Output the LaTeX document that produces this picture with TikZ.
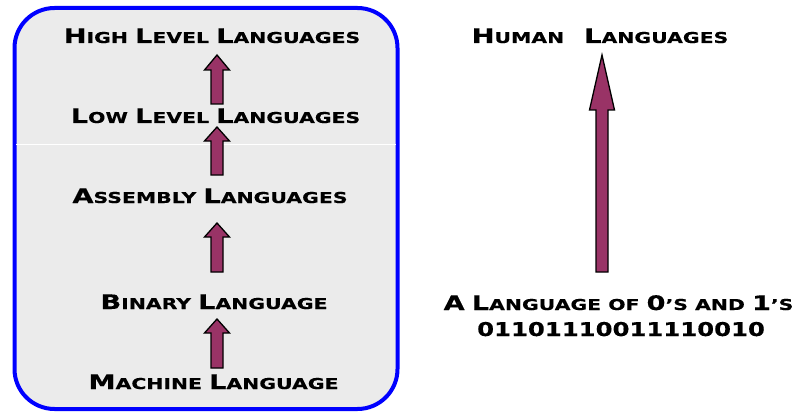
\documentclass[tikz,border=0pt]{standalone}
\usepackage{fontspec}
\newfontfamily\cg{DejaVu Sans Bold}[FakeStretch=1.36, FakeBold=0.4]
\newfontfamily\cgd{DejaVu Sans Bold}[FakeStretch=1.28, FakeBold=0.4]
\newcommand\Bg[1]{{\fontsize{20}{20}\selectfont#1}}
\newcommand\Sm[1]{{\fontsize{15}{15}\selectfont#1}}
\definecolor{plum}{HTML}{993366}
\definecolor{panel}{HTML}{EBEBEB}
\tikzset{
  lbl/.style={anchor=base, inner sep=0pt, font=\cg\fontsize{15}{15}\selectfont, text=black},
  blockarrow/.style={fill=plum, draw=black, line width=1.3pt, line join=miter},
  panelbox/.style={draw=blue, fill=panel, line width=4pt, rounded corners=40pt}
}
% tip x, tip y, head-base y, bottom y, head half width, shaft half width
\newcommand\uparr[6]{%
  \draw[blockarrow] (#1,#2) -- ({#1+#5},#3) -- ({#1+#6},#3) -- ({#1+#6},#4)
    -- ({#1-#6},#4) -- ({#1-#6},#3) -- ({#1-#5},#3) -- cycle;}
\begin{document}
\begin{tikzpicture}[x=1pt,y=-1pt]
\useasboundingbox (0,0) rectangle (796,412);
\draw[panelbox] (14.5,8) rectangle (397.5,409);
\draw[white, line width=0.8pt] (16,144) -- (395.5,144);
% left column labels
\node[lbl] (high) at (212,43) {\Bg{H}\Sm{IGH} \Bg{L}\Sm{EVEL} \Bg{L}\Sm{ANGUAGES}};
\node[lbl] (low) at (215.5,123) {\Bg{L}\Sm{OW} \Bg{L}\Sm{EVEL} \Bg{L}\Sm{ANGUAGES}};
\node[lbl] (asm) at (210,203) {\Bg{A}\Sm{SSEMBLY} \Bg{L}\Sm{ANGUAGES}};
\node[lbl] (bin) at (214,309) {\Bg{B}\Sm{INARY} \Bg{L}\Sm{ANGUAGE}};
\node[lbl] (mach) at (213.5,389) {\Bg{M}\Sm{ACHINE} \Bg{L}\Sm{ANGUAGE}};
% arrows in the panel
\uparr{217}{55}{70}{104}{12.5}{6}
\uparr{217}{127}{141}{175}{12.5}{6}
\uparr{217}{223}{237}{272}{12.5}{6}
\uparr{217}{319}{333}{368}{12.5}{6}
% right column
\node[lbl] (human) at (600,43) {\Bg{H}\Sm{UMAN}\hspace{20pt}\Bg{L}\Sm{ANGUAGES}};
\uparr{602}{55}{110}{272}{12.5}{6}
\node[lbl] (zeroone) at (618.5,310) {\Bg{A} \Bg{L}\Sm{ANGUAGE OF} \Bg{0}\Sm{’S AND} \Bg{1}\Sm{’S}};
\node[lbl, font=\cgd\fontsize{19}{19}\selectfont] (bits) at (621,336) {01101110011110010};
\end{tikzpicture}
\end{document}
